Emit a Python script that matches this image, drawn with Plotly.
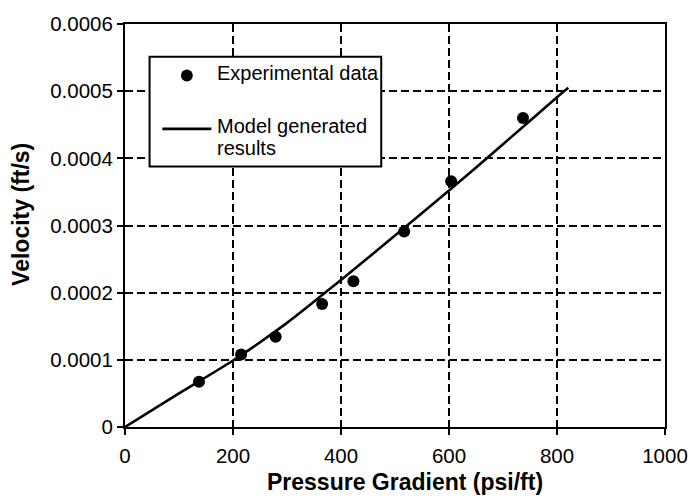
import plotly.graph_objects as go

# Measured velocities versus applied pressure gradient
exp_gradient = [137, 215, 279, 365, 423, 517, 604, 737]
exp_velocity = [0.0000672, 0.000108, 0.0001345, 0.000183, 0.000217, 0.000291, 0.000366, 0.000460]

# Model curve
model_gradient = [0, 100, 200, 300, 400, 500, 600, 700, 800, 821]
model_velocity = [0, 0.000050, 0.000099, 0.000155, 0.000219, 0.000285, 0.000352, 0.000421, 0.000491, 0.000505]

x_ticks = [0, 200, 400, 600, 800, 1000]
x_tick_labels = ["0", "200", "400", "600", "800", "1000"]
y_ticks = [0, 0.0001, 0.0002, 0.0003, 0.0004, 0.0005, 0.0006]
y_tick_labels = ["0", "0.0001", "0.0002", "0.0003", "0.0004", "0.0005", "0.0006"]

FONT = "Arial, Liberation Sans, Helvetica, sans-serif"

fig = go.Figure()
fig.add_trace(go.Scatter(
    x=model_gradient, y=model_velocity, mode="lines",
    line=dict(color="black", width=2.6, shape="spline", smoothing=0.8),
    name="Model generated results", showlegend=False,
))
fig.add_trace(go.Scatter(
    x=exp_gradient, y=exp_velocity, mode="markers",
    marker=dict(color="black", size=12), name="Experimental data",
    showlegend=False,
))

axis_common = dict(
    showline=True, linecolor="black", linewidth=2, mirror=True,
    ticks="outside", ticklen=6, tickwidth=2, tickcolor="black",
    showgrid=True, gridcolor="black", gridwidth=1.8, griddash="8px,4px",
    zeroline=False,
    tickfont=dict(family=FONT, size=20.5, color="black"),
)

fig.update_xaxes(range=[0, 1000], tickvals=x_ticks, ticktext=x_tick_labels,
                 ticklabelstandoff=3, **axis_common)
fig.update_yaxes(range=[0, 0.0006], tickvals=y_ticks, ticktext=y_tick_labels, **axis_common)

# Legend box drawn in paper coordinates
shapes = [
    dict(type="rect", xref="paper", yref="paper", x0=0.0455, x1=0.4745, y0=0.6465, y1=0.919,
         line=dict(color="black", width=2), fillcolor="white", layer="above"),
    dict(type="circle", xref="paper", yref="paper", x0=0.1036, x1=0.1255, y0=0.8576, y1=0.8871,
         line=dict(color="black", width=0), fillcolor="black", layer="above"),
    dict(type="line", xref="paper", yref="paper", x0=0.0691, x1=0.16, y0=0.7398, y1=0.7398,
         line=dict(color="black", width=2.6), layer="above"),
]

legend_font = dict(family=FONT, size=20, color="black")
title_font = dict(family=FONT, size=23, color="black")

annotations = [
    dict(text="Experimental data", xref="paper", yref="paper", x=0.1673, y=0.878,
         xanchor="left", yanchor="middle", showarrow=False, font=legend_font),
    dict(text="Model generated", xref="paper", yref="paper", x=0.1673, y=0.747,
         xanchor="left", yanchor="middle", showarrow=False, font=legend_font),
    dict(text="results", xref="paper", yref="paper", x=0.1673, y=0.692,
         xanchor="left", yanchor="middle", showarrow=False, font=legend_font),
    dict(text="<b>Pressure Gradient (psi/ft)</b>", xref="paper", yref="paper",
         x=(410 - 125) / 550, y=(427.3 - 483) / 407.3,
         xanchor="center", yanchor="middle", showarrow=False, font=title_font),
    dict(text="<b>Velocity (ft/s)</b>", xref="paper", yref="paper",
         x=(19 - 125) / 550, y=(427.3 - 212) / 407.3, textangle=-90,
         xanchor="center", yanchor="middle", showarrow=False, font=title_font),
]

fig.update_layout(
    width=700, height=504,
    margin=dict(l=125, r=25, t=20, b=77),
    paper_bgcolor="white", plot_bgcolor="white",
    shapes=shapes, annotations=annotations,
    showlegend=False,
)

fig.write_html("out.html")
